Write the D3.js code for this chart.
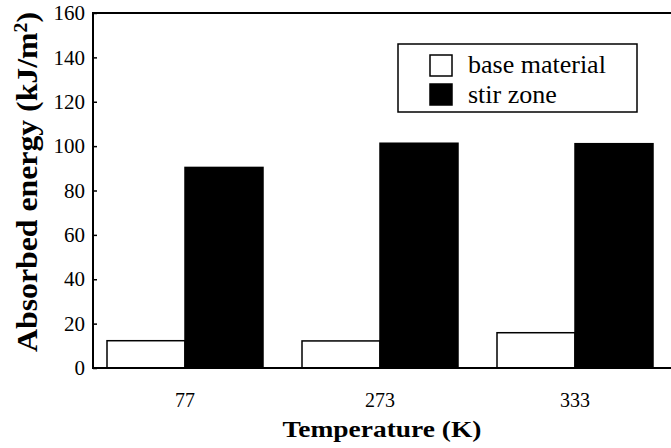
<!DOCTYPE html>
<html><head><meta charset="utf-8">
<script src="https://cdn.jsdelivr.net/npm/d3@7"></script>
<style>
body{margin:0;background:#fff}svg{display:block}
svg text{font-family:"Liberation Serif",serif !important;fill:#000}
</style>
</head><body>
<svg id="chart" width="671" height="448"></svg>
<script>
const categories = ["77", "273", "333"];
const seriesNames = ["base material", "stir zone"];
const baseMaterial = [12.3, 12.2, 15.9];
const stirZone = [90.4, 101.3, 101.1];
const yTicks = [0, 20, 40, 60, 80, 100, 120, 140, 160];

const svg = d3.select("#chart");
const L = 93, T = 13, B = 368, R = 676;

const x = d3.scaleBand().domain(categories).range([L, 667])
  .paddingInner(0.2).paddingOuter(14/195);
const xs = d3.scaleBand().domain(seriesNames).range([0, x.bandwidth()]);
const y = d3.scaleLinear().domain([0, 160]).range([B, T]);

const series = [baseMaterial, stirZone];
const fills = ["#fff", "#000"];

categories.forEach((c, i) => {
  series.forEach((s, j) => {
    svg.append("rect")
      .attr("x", x(c) + xs(seriesNames[j]))
      .attr("y", y(s[i]))
      .attr("width", xs.bandwidth())
      .attr("height", y(0) - y(s[i]))
      .attr("fill", fills[j])
      .attr("stroke", "#000").attr("stroke-width", 1.5);
  });
});

// frame
svg.append("path")
  .attr("d", `M${R},${T}H${L}V${B}H${R}`)
  .attr("fill", "none").attr("stroke", "#000").attr("stroke-width", 2);

// y axis
const yAxis = d3.axisLeft(y).tickValues(yTicks).tickSize(-4).tickPadding(8);
const gy = svg.append("g").attr("transform", `translate(${L},0)`).call(yAxis);
gy.attr("font-family", null).attr("font-size", null);
gy.select(".domain").remove();
gy.selectAll("text").style("font-size", "21px");
gy.selectAll("line").attr("stroke-width", 1.5);

// x axis
const xAxis = d3.axisBottom(x).tickSize(0).tickPadding(25);
const gx = svg.append("g").attr("transform", `translate(0,${B})`).call(xAxis);
gx.attr("font-family", null).attr("font-size", null);
gx.select(".domain").remove();
gx.selectAll("text").style("font-size", "20px");

// titles
svg.append("text").attr("x", 382).attr("y", 437).attr("text-anchor", "middle")
  .style("font-weight", "bold").style("font-size", "23px")
  .attr("textLength", 199).attr("lengthAdjust", "spacingAndGlyphs")
  .text("Temperature (K)");

const yt = svg.append("text").attr("transform", "translate(37,182) rotate(-90)")
  .attr("text-anchor", "middle")
  .style("font-weight", "bold").style("font-size", "29px")
  .attr("textLength", 340).attr("lengthAdjust", "spacingAndGlyphs");
yt.append("tspan").text("Absorbed energy (kJ/m");
yt.append("tspan").attr("baseline-shift", "super").style("font-size", "18px").text("2");
yt.append("tspan").text(")");

// legend
const lg = svg.append("g");
lg.append("rect").attr("x", 398).attr("y", 44).attr("width", 239).attr("height", 68)
  .attr("fill", "#fff").attr("stroke", "#000").attr("stroke-width", 1.5);
seriesNames.forEach((n, j) => {
  lg.append("rect").attr("x", 430).attr("y", 55 + j * 29).attr("width", 22).attr("height", 21)
    .attr("fill", fills[j]).attr("stroke", "#000").attr("stroke-width", 1.5);
  lg.append("text").attr("x", 468).attr("y", 73 + j * 30)
    .style("font-size", "26px").text(n);
});
</script>
</body></html>
